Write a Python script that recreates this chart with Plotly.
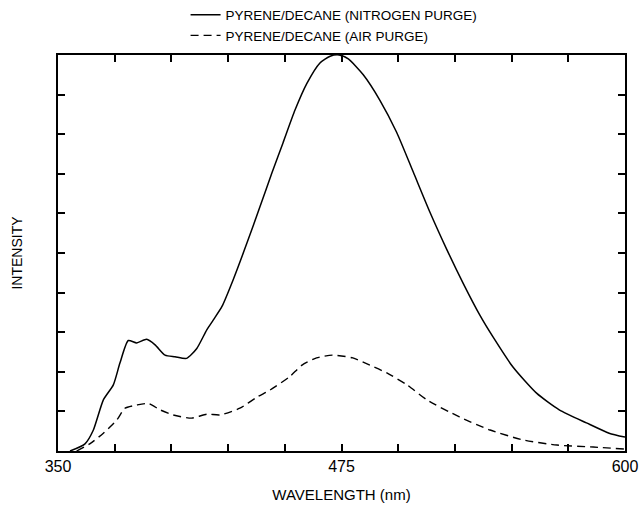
import plotly.graph_objects as go

# Emission spectra of pyrene in decane
nitrogen_nm = [355.3, 361.9, 365.6, 370, 374.4, 377.3, 381, 384.7, 389.1, 392.8, 397.2,
               401.6, 406.7, 411.2, 415.6, 418.5, 422.3, 427.2, 433.3, 439, 444.3, 449.2,
               454.5, 459.8, 465.5, 470, 474, 478, 484.6, 492, 499.3, 506.6, 514,
               521.5, 528.6, 536, 541.8, 550.6, 561, 571, 583, 593, 600]
nitrogen_int = [0, 0.18, 0.53, 1.29, 1.67, 2.22, 2.79, 2.73, 2.82, 2.68, 2.42,
                2.38, 2.34, 2.59, 3.06, 3.31, 3.65, 4.32, 5.25, 6.16, 7.02, 7.78,
                8.61, 9.29, 9.8, 9.97, 10.0, 9.9, 9.5, 8.85, 8.05, 7.05, 6.03,
                5.08, 4.24, 3.43, 2.88, 2.12, 1.46, 1.04, 0.71, 0.45, 0.35]

air_nm = [358.2, 364, 370, 375.9, 379.5, 384.7, 389.8, 395, 400.8, 408.9, 415.6, 421.4,
          430.2, 437.7, 443.5, 452, 457.6, 464, 471, 480, 487.5, 495, 503.9, 512.7,
          527, 540.5, 555, 570, 586, 600]
air_int = [0, 0.18, 0.45, 0.78, 1.08, 1.16, 1.2, 1.04, 0.91, 0.83, 0.93, 0.91,
           1.08, 1.36, 1.54, 1.87, 2.17, 2.35, 2.42, 2.35, 2.17, 1.97, 1.67, 1.29,
           0.86, 0.53, 0.28, 0.15, 0.1, 0.05]

x_tick_vals = [350, 375, 400, 425, 450, 475, 500, 525, 550, 575, 600]
x_tick_text = ["350", "", "", "", "", "475", "", "", "", "", "600"]
y_tick_vals = list(range(0, 11))

FONT = "Liberation Sans, Arial, sans-serif"

fig = go.Figure()
fig.add_trace(go.Scatter(
    x=nitrogen_nm, y=nitrogen_int, mode="lines",
    name="PYRENE/DECANE (NITROGEN PURGE)",
    line=dict(color="black", width=1.5, shape="spline", smoothing=0.6),
))
fig.add_trace(go.Scatter(
    x=air_nm, y=air_int, mode="lines",
    name="PYRENE/DECANE (AIR PURGE)",
    line=dict(color="black", width=1.4, dash="8px,5px", shape="spline", smoothing=0.6),
))

axis_common = dict(
    showline=True, linecolor="black", linewidth=1.5, mirror="ticks",
    ticks="inside", tickcolor="black", tickwidth=1.5, ticklen=7,
    showgrid=False, zeroline=False,
)

fig.update_layout(
    width=643, height=509,
    margin=dict(l=58, r=18, t=55, b=58, autoexpand=False),
    paper_bgcolor="white", plot_bgcolor="white",
    font=dict(family=FONT, color="black"),
    xaxis=dict(
        range=[350, 600], tickmode="array", tickvals=x_tick_vals, ticktext=x_tick_text,
        tickfont=dict(size=16), title=dict(text="WAVELENGTH (nm)", font=dict(size=15), standoff=16),
        **axis_common,
    ),
    yaxis=dict(
        range=[0, 10], tickmode="array", tickvals=y_tick_vals, showticklabels=False,
        title=dict(text="INTENSITY", font=dict(size=14), standoff=30),
        **axis_common,
    ),
    legend=dict(
        x=0.225, y=1.14, xanchor="left", yanchor="top",
        font=dict(size=13.5), itemwidth=30, bgcolor="rgba(0,0,0,0)",
        tracegroupgap=0,
    ),
    showlegend=True,
)

fig.write_html("out.html")
